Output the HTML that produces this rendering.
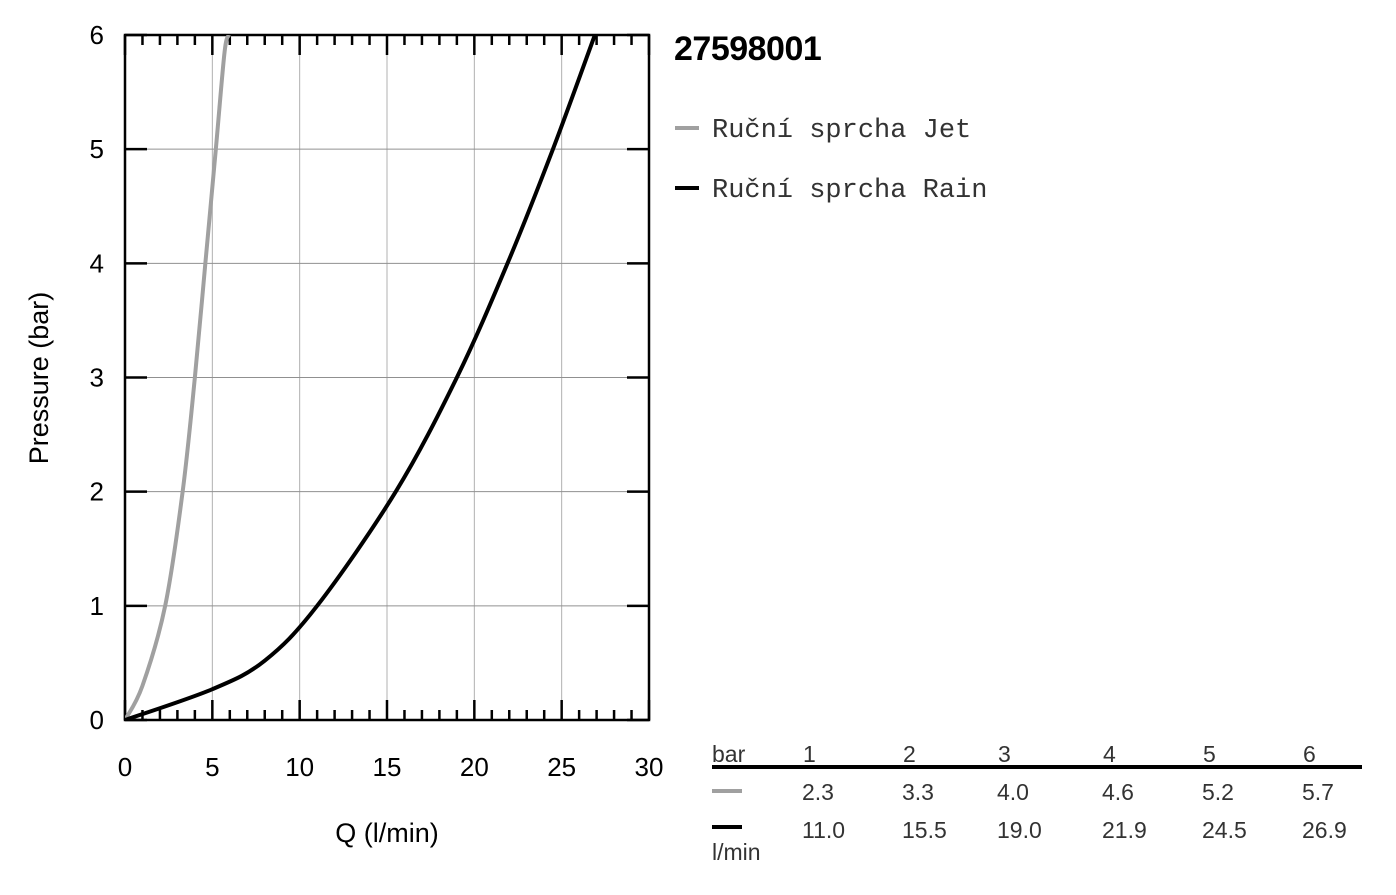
<!DOCTYPE html>
<html><head><meta charset="utf-8"><style>
body{margin:0;background:#fff;width:1396px;height:895px;overflow:hidden}
svg{display:block;font-family:"Liberation Sans",sans-serif}
</style></head><body>
<svg id="c" width="1396" height="895">
<text x="674" y="60" font-size="34" font-weight="bold" letter-spacing="-0.5">27598001</text>
<g>
<line x1="675" y1="128" x2="699" y2="128" stroke="#a0a0a0" stroke-width="4"/>
<text x="712" y="137" font-family="Liberation Mono,monospace" font-size="27" fill="#333">Ruční sprcha Jet</text>
<line x1="675" y1="188" x2="699" y2="188" stroke="#000" stroke-width="4"/>
<text x="712" y="197" font-family="Liberation Mono,monospace" font-size="27" fill="#333">Ruční sprcha Rain</text>
</g>
<g id="plot"></g>
<g id="tbl"></g>
</svg>
<script>
const xTicks=[0,5,10,15,20,25,30];
const yTicks=[0,1,2,3,4,5,6];
const jetQ=[0,1,2.3,3.3,4.0,4.6,5.2,5.7,5.95];
const jetP=[0,0.3,1,2,3,4,5,5.85,6];
const rainQ=[0,5,8,11.0,15.5,19.0,21.9,24.5,26.9];
const rainP=[0,0.27,0.52,1,2,3,4,5,6];
const tablePressure=["1","2","3","4","5","6"];
const tableJet=["2.3","3.3","4.0","4.6","5.2","5.7"];
const tableRain=["11.0","15.5","19.0","21.9","24.5","26.9"];
const NS="http://www.w3.org/2000/svg";
const X0=125,X1=649,Y0=720,Y1=35;
const sx=v=>X0+(v-0)/30*(X1-X0), sy=v=>Y0-v/6*(Y0-Y1);
const plot=document.getElementById('plot');
function mk(t,a,p){const e=document.createElementNS(NS,t);for(const k in a)e.setAttribute(k,a[k]);(p||plot).appendChild(e);return e;}
xTicks.forEach(v=>{if(v>0&&v<30){const g=mk('line',{x1:sx(v),x2:sx(v),y1:Y1,y2:Y0,stroke:'#b0b0b0','stroke-width':1});

}});
yTicks.forEach(v=>{if(v>0&&v<6){const g=mk('line',{x1:X0,x2:X1,y1:sy(v),y2:sy(v),stroke:'#909090','stroke-width':1});

}});
for(let v=0;v<=30;v++){const L=v%5===0?20:10;
const t1=mk('line',{x1:sx(v),x2:sx(v),y1:Y0,y2:Y0-L,stroke:'#000','stroke-width':2.5});


const t2=mk('line',{x1:sx(v),x2:sx(v),y1:Y1,y2:Y1+L,stroke:'#000','stroke-width':2.5});

}
yTicks.forEach(v=>{
const a=mk('line',{x1:X0,x2:X0+22,y1:sy(v),y2:sy(v),stroke:'#000','stroke-width':2.5});


const b=mk('line',{x1:X1-22,x2:X1,y1:sy(v),y2:sy(v),stroke:'#000','stroke-width':2.5});


const t=mk('text',{x:104,y:sy(v)+9,'font-size':26,'text-anchor':'end'});t.textContent=v;

});
xTicks.forEach(v=>{const t=mk('text',{x:sx(v),y:776,'font-size':26,'text-anchor':'middle'});t.textContent=v;

});
const fr=mk('rect',{x:X0,y:Y1,width:X1-X0,height:Y0-Y1,fill:'none',stroke:'#000','stroke-width':2.5});


const xt=mk('text',{x:387,y:842,'font-size':27,'text-anchor':'middle'});xt.textContent='Q (l/min)';


const yt=mk('text',{x:48,y:378,'font-size':27,'text-anchor':'middle',transform:'rotate(-90 48 378)'});yt.textContent='Pressure (bar)';


function curve(qs,ps){const pts=qs.map((q,i)=>[sx(q),sy(ps[i])]);let d='M'+pts[0].join(',');
for(let i=0;i<pts.length-1;i++){const p0=pts[Math.max(0,i-1)],p1=pts[i],p2=pts[i+1],p3=pts[Math.min(pts.length-1,i+2)];
d+=' C'+(p1[0]+(p2[0]-p0[0])/6)+','+(p1[1]+(p2[1]-p0[1])/6)+' '+(p2[0]-(p3[0]-p1[0])/6)+','+(p2[1]-(p3[1]-p1[1])/6)+' '+p2[0]+','+p2[1];}return d;}
const cp=mk('clipPath',{id:'cl'});mk('rect',{x:X0,y:Y1,width:X1-X0,height:Y0-Y1},cp);
const jl=mk('path',{d:curve(jetQ,jetP),fill:'none',stroke:'#a0a0a0','stroke-width':4,'clip-path':'url(#cl)'});


const rl=mk('path',{d:curve(rainQ,rainP),fill:'none',stroke:'#000','stroke-width':4,'clip-path':'url(#cl)'});


const tb=document.getElementById('tbl');
const cols=[803,903,998,1103,1203,1303];
let e=mk('text',{x:712,y:762,'font-size':23,fill:'#333'},tb);e.textContent='bar';


e=mk('line',{x1:712,x2:1362,y1:767,y2:767,stroke:'#000','stroke-width':4},tb);


e=mk('line',{x1:712,x2:742,y1:791,y2:791,stroke:'#a0a0a0','stroke-width':4},tb);


e=mk('line',{x1:712,x2:742,y1:827,y2:827,stroke:'#000','stroke-width':4},tb);


e=mk('text',{x:712,y:860,'font-size':23,fill:'#333'},tb);e.textContent='l/min';


cols.forEach((x,i)=>{
let t=mk('text',{x:x,y:762,'font-size':23,fill:'#333'},tb);t.textContent=tablePressure[i];


t=mk('text',{x:x-1,y:800,'font-size':23,fill:'#333'},tb);t.textContent=tableJet[i];


t=mk('text',{x:x-1,y:838,'font-size':23,fill:'#333'},tb);t.textContent=tableRain[i];

});
</script>
</body></html>
